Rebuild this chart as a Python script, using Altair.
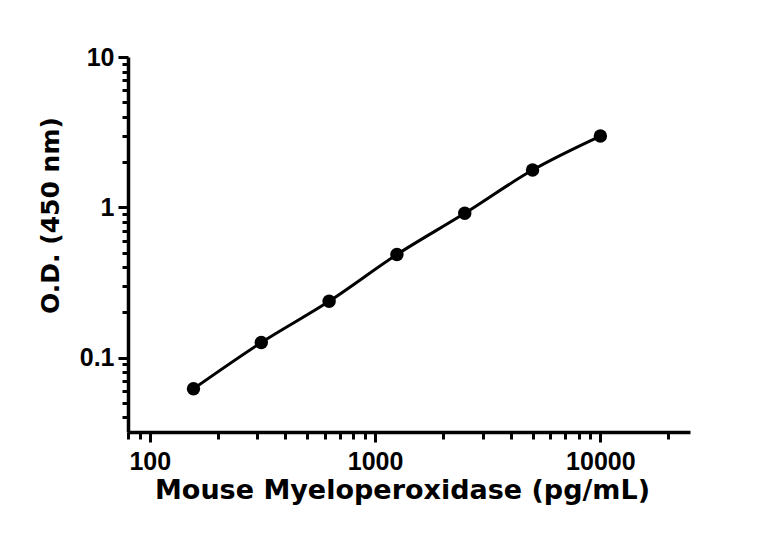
import altair as alt
import pandas as pd

# standard curve
conc = [156.25, 312.5, 625, 1250, 2500, 5000, 10000]
od = [0.062, 0.126, 0.237, 0.485, 0.912, 1.77, 2.98]

x_ticks = [80, 90, 100, 200, 300, 400, 500, 600, 700, 800, 900, 1000,
           2000, 3000, 4000, 5000, 6000, 7000, 8000, 9000, 10000, 20000]
x_major = [100, 1000, 10000]
y_ticks = [0.04, 0.05, 0.06, 0.07, 0.08, 0.09, 0.1, 0.2, 0.3, 0.4, 0.5, 0.6,
           0.7, 0.8, 0.9, 1, 2, 3, 4, 5, 6, 7, 8, 9, 10]
y_major = [0.1, 1, 10]

df = pd.DataFrame({"conc": conc, "od": od})

_INK = "#000000"
_TITLE_FONT = "DejaVu Sans"
_LABEL_FONT = "Liberation Sans Narrow, Liberation Sans"


def _is_major(values):
    return "indexof(" + str(values) + ", datum.value) >= 0"


x_axis = alt.Axis(
    values=x_ticks, format="~g", grid=False,
    labelExpr=f"{_is_major(x_major)} ? datum.label : ''",
    tickSize={"condition": {"test": _is_major(x_major), "value": 10}, "value": 7},
    labelOverlap=False, labelFont=_LABEL_FONT, labelFontSize=25,
    labelFontWeight="bold", labelColor=_INK, labelPadding=7,
    domainColor=_INK, domainWidth=3.5, tickColor=_INK, tickWidth=3,
    title="Mouse Myeloperoxidase (pg/mL)", titleFont=_TITLE_FONT,
    titleFontSize=27, titleFontWeight="bold", titleColor=_INK,
    titlePadding=3, titleX=274)

y_axis = alt.Axis(
    values=y_ticks, format="~g", grid=False,
    labelExpr=f"{_is_major(y_major)} ? datum.label : ''",
    tickSize={"condition": {"test": _is_major(y_major), "value": 10}, "value": 6},
    labelOverlap=False, labelFont=_LABEL_FONT, labelFontSize=25,
    labelFontWeight="bold", labelColor=_INK, labelPadding=4,
    domainColor=_INK, domainWidth=3.5, tickColor=_INK, tickWidth=3,
    title="O.D. (450 nm)", titleFont=_TITLE_FONT, titleFontSize=25,
    titleFontWeight="bold", titleColor=_INK, titlePadding=16, titleY=158)

x_enc = alt.X("conc:Q", axis=x_axis,
              scale=alt.Scale(type="log", domain=[80, 25000], nice=False))
y_enc = alt.Y("od:Q", axis=y_axis,
              scale=alt.Scale(type="log", domain=[0.032, 10], nice=False))

base = alt.Chart(df).encode(x=x_enc, y=y_enc)
curve = base.mark_line(color=_INK, strokeWidth=3, interpolate="monotone")
dots = base.mark_circle(color=_INK, size=180, opacity=1)

chart = (alt.layer(curve, dots)
         .properties(width=562, height=375,
                     autosize=alt.AutoSizeParams(type="none"),
                     padding={"left": 120, "top": 49, "right": 70, "bottom": 103},
                     background="white")
         .configure_view(strokeWidth=0))

chart.save("out.html", embed_options={"renderer": "svg", "actions": False})
